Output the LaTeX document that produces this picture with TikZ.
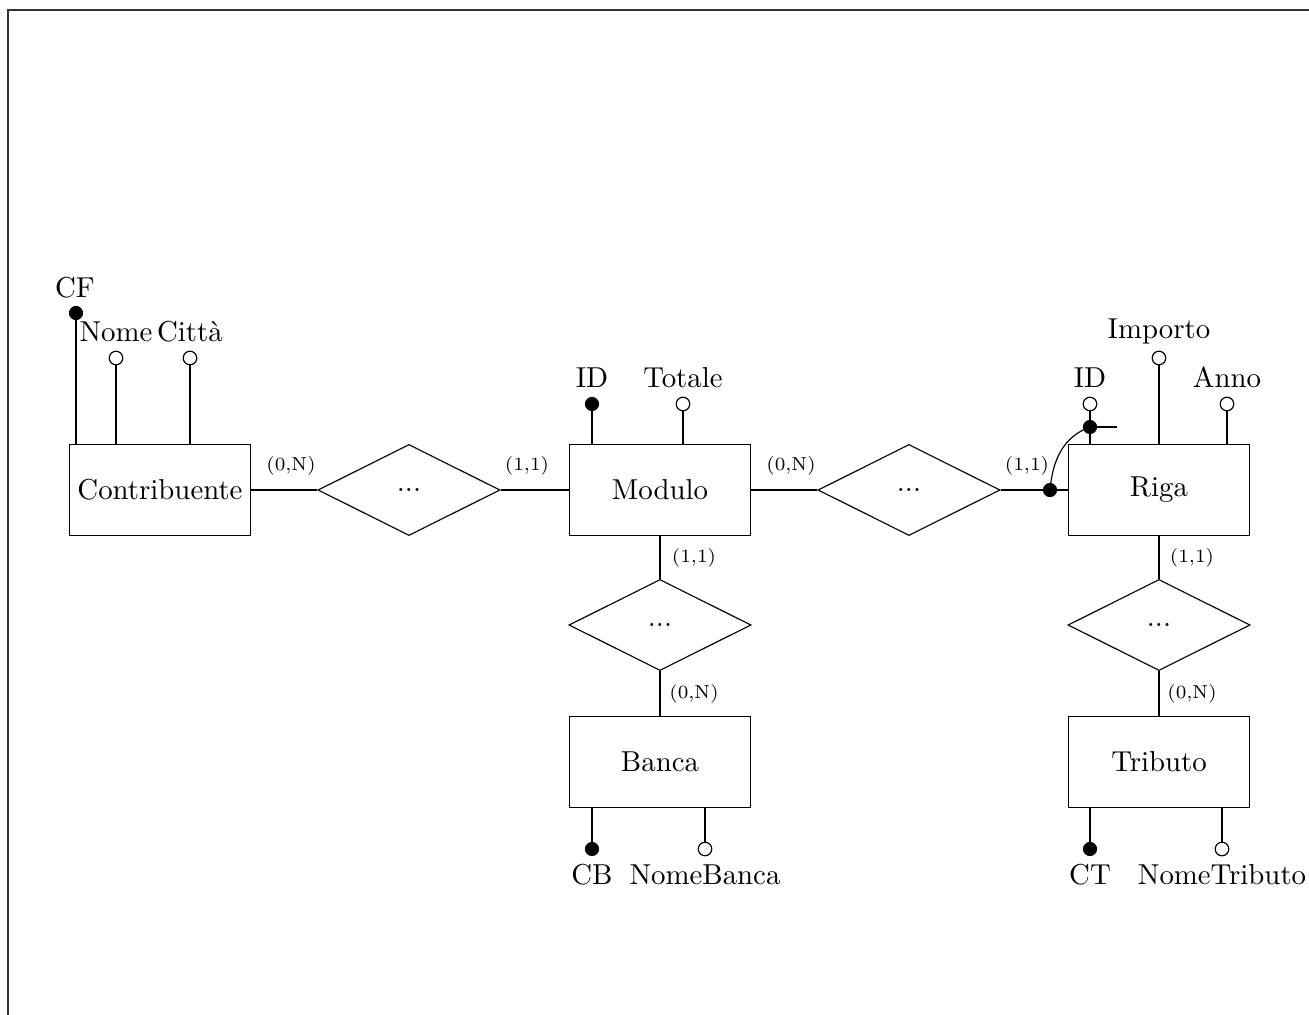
\documentclass[tikz,border=0pt]{standalone}
\usetikzlibrary{shapes.geometric}
\begin{document}
\begin{tikzpicture}[x=0.347pt,y=-0.347pt,
 entity/.style={draw,rectangle,minimum width=62.8pt,minimum height=31.6pt,inner sep=0pt},
 relation/.style={draw,diamond,minimum width=63.2pt,minimum height=31.6pt,inner sep=0pt},
 keyattr/.style={draw,circle,fill=black,minimum size=4.5pt,inner sep=0pt},
 attr/.style={draw,circle,fill=white,minimum size=4.7pt,inner sep=0pt},
 card/.style={font=\fontsize{6.5}{7}\selectfont,inner sep=0pt},
 lbl/.style={inner sep=0pt,anchor=base}]
\useasboundingbox (0,0) rectangle (1309,1015);
\draw[line width=0.6pt,draw=black!80] (8,1015) -- (8,10) -- (1309,10);

% entities
\node[entity] (contr) at (160,490) {Contribuente};
\node[entity] (mod) at (660,490) {Modulo};
\node[entity] (riga) at (1159,490) {Riga};
\node[entity] (banca) at (660,762) {Banca};
\node[entity] (trib) at (1159,762) {Tributo};

% relations
\node[relation] (r1) at (409,490) {...};
\node[relation] (r2) at (909,490) {...};
\node[relation] (r3) at (660,625) {...};
\node[relation] (r4) at (1159,625) {...};

% connectors
\draw (contr.east) -- (r1.west);
\draw (r1.east) -- (mod.west);
\draw (mod.east) -- (r2.west);
\draw (r2.east) -- (riga.west);
\draw (mod.south) -- (r3.north);
\draw (r3.south) -- (banca.north);
\draw (riga.south) -- (r4.north);
\draw (r4.south) -- (trib.north);

% cardinalities
\node[card] (c1) at (291,466) {(0,N)};
\node[card] (c2) at (527,466) {(1,1)};
\node[card] (c3) at (791,466) {(0,N)};
\node[card] (c4) at (1027,466) {(1,1)};
\node[card] (c5) at (694,558) {(1,1)};
\node[card] (c6) at (694,694) {(0,N)};
\node[card] (c7) at (1192,558) {(1,1)};
\node[card] (c8) at (1192,694) {(0,N)};

% Contribuente attributes
\node[keyattr] (cf) at (76,313) {};
\node[attr] (nome) at (116,358) {};
\node[attr] (citta) at (190,358) {};
\draw (cf |- contr.north) -- (cf.center);
\draw (nome |- contr.north) -- (nome.south);
\draw (citta |- contr.north) -- (citta.south);
\node[lbl] (lcf) at (75,297) {CF};
\node[lbl] (lnome) at (116,341) {Nome};
\node[lbl] (lcitta) at (190,341) {Città};

% Modulo attributes
\node[keyattr] (mid) at (592,404) {};
\node[attr] (mtot) at (683,404) {};
\draw (mid |- mod.north) -- (mid.center);
\draw (mtot |- mod.north) -- (mtot.south);
\node[lbl] (lmid) at (592,387) {ID};
\node[lbl] (lmtot) at (683,387) {Totale};

% Riga attributes
\node[attr] (rid) at (1090,404) {};
\node[attr] (rimp) at (1159,358) {};
\node[attr] (ranno) at (1227,404) {};
\draw (rid |- riga.north) -- (rid.south);
\draw (rimp |- riga.north) -- (rimp.south);
\draw (ranno |- riga.north) -- (ranno.south);
\node[lbl] (lrid) at (1090,387) {ID};
\node[lbl] (lrimp) at (1159,338) {Importo};
\node[lbl] (lranno) at (1227,387) {Anno};
% composite identifier
\node[keyattr] (rkey) at (1090,427) {};
\node[keyattr] (rlink) at (1050,490) {};
\coordinate (rkeyend) at (1117,427);
\draw (rkey.center) -- (rkeyend);
\draw (rlink.center) to[out=85,in=200] (rkey.center);

% Banca attributes
\node[keyattr] (cb) at (592,849) {};
\node[attr] (nb) at (705,849) {};
\draw (cb |- banca.south) -- (cb.center);
\draw (nb |- banca.south) -- (nb.north);
\node[lbl] (lcb) at (592,884) {CB};
\node[lbl] (lnb) at (705,884) {NomeBanca};

% Tributo attributes
\node[keyattr] (ct) at (1090,849) {};
\node[attr] (nt) at (1222,849) {};
\draw (ct |- trib.south) -- (ct.center);
\draw (nt |- trib.south) -- (nt.north);
\node[lbl] (lct) at (1090,884) {CT};
\node[lbl] (lnt) at (1222,884) {NomeTributo};
\end{tikzpicture}
\end{document}
